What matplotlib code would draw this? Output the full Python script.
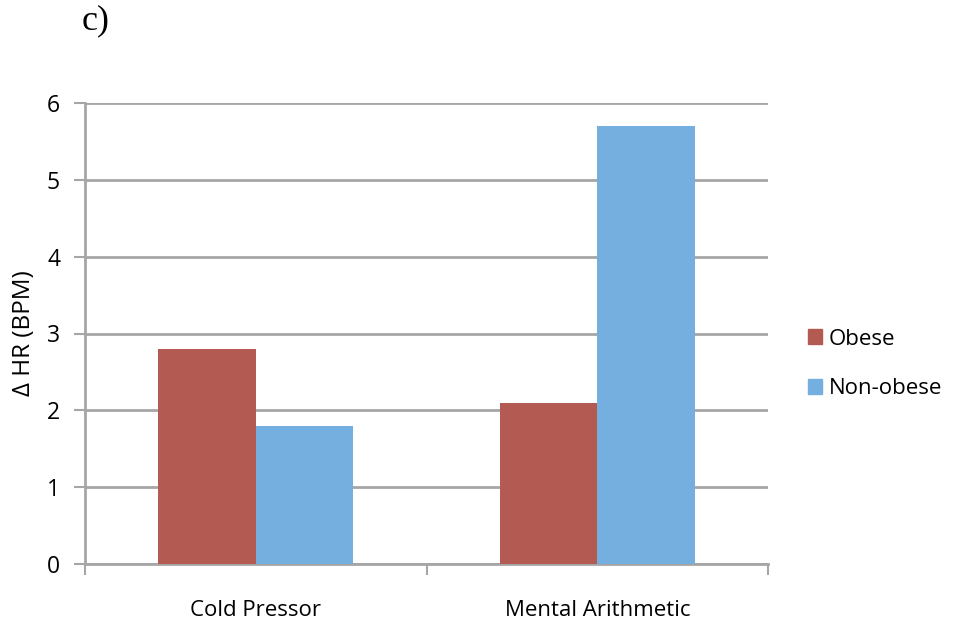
import numpy as np
import matplotlib as mpl
import matplotlib.pyplot as plt
from matplotlib.patches import Patch

mpl.use('agg')

# heart rate change per stress test
tests = ['Cold Pressor', 'Mental Arithmetic']
obese = [2.8, 2.1]
non_obese = [1.8, 5.7]
series = ['Obese', 'Non-obese']
colors = ['#B35B52', '#75AFE0']
yticks = [0, 1, 2, 3, 4, 5, 6]

plt.rcParams['font.family'] = ['Open Sans', 'DejaVu Sans']

fig = plt.figure(figsize=(9.55, 6.27), dpi=100)
ax = fig.add_axes([85 / 955, 1 - 564 / 627, (768 - 85) / 955, (564 - 103) / 627])

x = np.arange(len(tests))
w = 0.2855
ax.bar(x - w / 2, obese, w, color=colors[0], zorder=3)
ax.bar(x + w / 2, non_obese, w, color=colors[1], zorder=3)

ax.set_xlim(-0.5, len(tests) - 0.5)
ax.set_ylim(0, 6)
ax.set_yticks(yticks)
ax.set_yticklabels([str(t) for t in yticks], fontsize=16.5)
ax.yaxis.grid(True, color='#A6A6A6', linewidth=2, zorder=0)

# category labels centred, ticks on the group boundaries
ax.set_xticks(x)
ax.set_xticklabels(tests, fontsize=16)
ax.tick_params(axis='x', which='major', length=0, pad=26)
ax.set_xticks(np.arange(-0.5, len(tests)), minor=True)
ax.tick_params(axis='x', which='minor', length=8, width=1.5, color='#A6A6A6')
ax.tick_params(axis='y', length=8, width=1.5, color='#A6A6A6', pad=10)

for side in ['top', 'right']:
    ax.spines[side].set_visible(False)
for side in ['left', 'bottom']:
    ax.spines[side].set_color('#A6A6A6')
    ax.spines[side].set_linewidth(2)

ax.set_ylabel('\u0394 HR (BPM)', fontsize=17.5, labelpad=8)

handles = [Patch(color=c) for c in colors]
fig.legend(handles, series, loc='center left', bbox_to_anchor=(788 / 955, 1 - 364 / 627),
           frameon=False, fontsize=16, handlelength=0.65, handleheight=0.65,
           handletextpad=0.3, labelspacing=1.3)

fig.text(96 / 955, 1 - 21 / 627, 'c)', family='Liberation Serif', fontsize=26,
         va='center', ha='center')

fig.savefig('out.png')
